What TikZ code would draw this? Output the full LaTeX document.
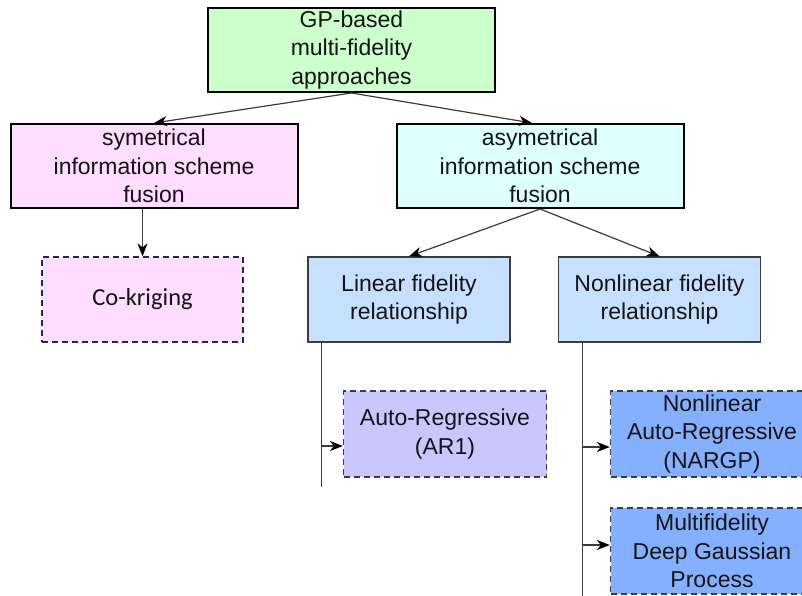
\documentclass[tikz,border=0pt]{standalone}
\usepackage{fontspec}
\setmainfont{Liberation Sans}
\newfontfamily\calib{Carlito}
\usetikzlibrary{arrows.meta}
\definecolor{cgreen}{RGB}{204,255,204}
\definecolor{cpink}{RGB}{255,221,255}
\definecolor{ccyan}{RGB}{221,255,255}
\definecolor{clblue}{RGB}{200,224,255}
\definecolor{clav}{RGB}{200,200,255}
\definecolor{cblue}{RGB}{133,175,255}
\definecolor{cnavy}{RGB}{30,40,75}
\definecolor{cgray}{RGB}{60,60,60}
\definecolor{ctext}{RGB}{20,20,20}
\tikzset{
  base/.style={rectangle, align=center, inner sep=0pt, text=ctext,
    font=\fontsize{23}{28.5}\selectfont},
  mainbox/.style={base, draw=black, line width=2pt, minimum width=287pt, minimum height=84pt},
  relbox/.style={base, draw=cgray, line width=1.3pt, fill=clblue, minimum width=202pt, minimum height=85pt},
  leafbox/.style={base, draw=cgray, line width=1.3pt, dash pattern=on 6pt off 4pt, minimum width=203pt, minimum height=86pt},
  conn/.style={draw=cgray, line width=1.2pt},
  arr/.style={conn, -{Stealth[length=13pt,width=10pt,inset=4pt,black]}}
}
\begin{document}
\begin{tikzpicture}[x=1pt,y=-1pt]
\useasboundingbox (0,0) rectangle (802,596);
\node[mainbox, fill=cgreen] (top) at (351.5,50) {GP-based\\multi-fidelity\\approaches};
\node[mainbox, fill=cpink] (sym) at (154,166) {symetrical\\information scheme\\fusion};
\node[mainbox, fill=ccyan] (asym) at (540,166) {asymetrical\\information scheme\\fusion};
\node[leafbox, fill=cpink, draw=cnavy, minimum width=201pt, minimum height=85pt,
  font=\calib\fontsize{24.5}{29}\selectfont] (ck) at (142.5,299.5) {Co-kriging};
\node[relbox] (lin) at (409,299.5) {Linear fidelity\\relationship};
\node[relbox] (nonlin) at (659.5,299.5) {Nonlinear fidelity\\relationship};
\node[leafbox, fill=clav] (ar) at (445,434) {Auto-Regressive\\(AR1)};
\node[leafbox, fill=cblue] (nargp) at (712,434) {Nonlinear\\Auto-Regressive\\(NARGP)};
\node[leafbox, fill=cblue] (mfdgp) at (712,551) {Multifidelity\\Deep Gaussian\\Process};

\draw[arr] (top.south) -- (sym.north);
\draw[arr] (top.south) -- ([xshift=-8pt]asym.north);
\draw[arr] (sym.south -| ck.north) -- (ck.north);
\draw[arr] (asym.south) -- (lin.north);
\draw[arr] (asym.south) -- (nonlin.north);

\coordinate (lb) at ([xshift=14.5pt]lin.south west);
\coordinate (le) at (lb |- 0,487);
\draw[conn] (lb) -- (le);
\draw[arr] ([yshift=-12pt]ar.west -| lb) -- ([yshift=-12pt]ar.west);

\coordinate (nb) at ([xshift=25pt]nonlin.south west);
\coordinate (ne) at (nb |- 0,600);
\draw[conn] (nb) -- (ne);
\draw[arr] ([yshift=-13pt]nargp.west -| nb) -- ([yshift=-13pt]nargp.west);
\draw[arr] ([yshift=6pt]mfdgp.west -| nb) -- ([yshift=6pt]mfdgp.west);
\end{tikzpicture}
\end{document}
